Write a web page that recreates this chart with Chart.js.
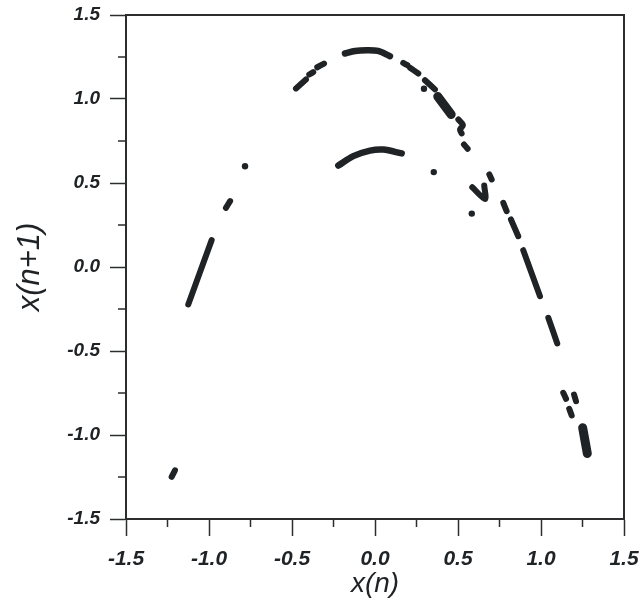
<!DOCTYPE html>
<html>
<head>
<meta charset="utf-8">
<script src="https://cdn.jsdelivr.net/npm/chart.js@4.4.1/dist/chart.umd.min.js"></script>
<style>
  html, body { margin: 0; padding: 0; background: #fff; }
  #wrap { width: 643px; height: 601px; position: relative; }
</style>
</head>
<body>
<div id="wrap"><canvas id="c" width="643" height="601"></canvas></div>
<script>
/* ---- data: x(n) vs x(n+1) return map ---- */
var X_TITLE = "x(n)";
var Y_TITLE = "x(n+1)";
var AXIS_MIN = -1.5, AXIS_MAX = 1.5, MAJOR_STEP = 0.5;
var MINOR_TICKS = [-1.25, -0.75, -0.25, 0.25, 0.75, 1.25];

// outer cap near the top
var topCap = [[-0.181, 1.271], [-0.120, 1.286], [-0.050, 1.290], [0.018, 1.286], [0.090, 1.255]];
// inner cap below it
var innerCap = [[-0.221, 0.604], [-0.131, 0.660], [-0.030, 0.693], [0.050, 0.699], [0.161, 0.676]];

// short dashes on the left half
var leftDashes = [
  [[-0.476, 1.063], [-0.416, 1.116]],
  [[-0.396, 1.146], [-0.372, 1.160]],
  [[-0.348, 1.189], [-0.307, 1.211]],
  [[-0.898, 0.352], [-0.873, 0.392]],
  [[-1.125, -0.223], [-0.984, 0.160]],
  [[-1.225, -1.249], [-1.205, -1.210]]
];

// dashes on the right half
var rightDashes = [
  [[0.170, 1.215], [0.195, 1.201]],
  [[0.211, 1.186], [0.261, 1.152]],
  [[0.301, 1.112], [0.361, 1.057]],
  [[0.502, 0.878], [0.530, 0.845], [0.512, 0.818], [0.522, 0.795]],
  [[0.536, 0.729], [0.558, 0.704]],
  [[0.689, 0.551], [0.703, 0.521]],
  [[0.586, 0.475], [0.663, 0.405], [0.658, 0.485]],
  [[0.773, 0.382], [0.793, 0.332]],
  [[0.819, 0.283], [0.863, 0.183]],
  [[0.893, 0.100], [0.994, -0.174]],
  [[1.044, -0.302], [1.098, -0.455]],
  [[1.134, -0.749], [1.151, -0.785]],
  [[1.199, -0.759], [1.211, -0.799]],
  [[1.170, -0.844], [1.185, -0.884]]
];

// the two heaviest strokes
var heavyDashes = [
  [[0.378, 1.015], [0.459, 0.908]],
  [[1.251, -0.957], [1.279, -1.110]]
];

// lone points
var isolated = [[0.295, 1.061], [0.354, 0.565], [-0.783, 0.600], [0.583, 0.318]];

/* ---- helpers ---- */
var INK = "#1f2326";
var FRAME = "#2b2d2f";
var FAMILY = "'Liberation Sans', Arial, sans-serif";

// join segments into one dataset, breaking the line with a y:null point
function segmentsToData(segs) {
  var out = [];
  segs.forEach(function (s, i) {
    if (i > 0) out.push({ x: s[0][0], y: null });
    s.forEach(function (p) { out.push({ x: p[0], y: p[1] }); });
  });
  return out;
}

function strokeSet(segs, width) {
  return {
    data: segmentsToData(segs),
    showLine: true,
    spanGaps: false,
    borderColor: INK,
    borderWidth: width,
    borderCapStyle: "round",
    borderJoinStyle: "round",
    tension: 0.3,
    pointRadius: 0
  };
}

/* ---- plugin: frame box + minor ticks ---- */
var frameAndMinor = {
  id: "frameAndMinor",
  afterDraw: function (chart) {
    var a = chart.chartArea, ctx = chart.ctx;
    var xs = chart.scales.x, ys = chart.scales.y;
    ctx.save();
    ctx.strokeStyle = FRAME;
    ctx.lineWidth = 2;
    ctx.strokeRect(a.left, a.top, a.right - a.left, a.bottom - a.top);
    ctx.lineWidth = 1.5;
    ctx.beginPath();
    MINOR_TICKS.forEach(function (v) {
      var px = xs.getPixelForValue(v);
      ctx.moveTo(px, a.bottom); ctx.lineTo(px, a.bottom + 8);
      var py = ys.getPixelForValue(v);
      ctx.moveTo(a.left, py); ctx.lineTo(a.left - 8, py);
    });
    ctx.stroke();
    ctx.restore();
  }
};

var tickFmt = function (v) { return Number(v).toFixed(1); };

new Chart(document.getElementById("c").getContext("2d"), {
  type: "scatter",
  data: {
    datasets: [
      strokeSet([topCap, innerCap], 6.5),
      strokeSet(leftDashes, 6),
      strokeSet(rightDashes, 6),
      strokeSet(heavyDashes, 9),
      {
        data: isolated.map(function (p) { return { x: p[0], y: p[1] }; }),
        pointRadius: 3.2,
        pointBackgroundColor: INK,
        pointBorderWidth: 0,
        showLine: false
      }
    ]
  },
  plugins: [frameAndMinor],
  options: {
    responsive: false,
    animation: false,
    events: [],
    layout: { padding: { top: 15, right: 19, left: 0, bottom: 0 } },
    plugins: { legend: { display: false }, tooltip: { enabled: false } },
    scales: {
      x: {
        type: "linear",
        min: AXIS_MIN, max: AXIS_MAX,
        afterFit: function (s) { s.height = 82; s.paddingLeft = 0; s.paddingRight = 0; },
        ticks: {
          stepSize: MAJOR_STEP, callback: tickFmt, color: INK, padding: 11,
          maxRotation: 0,
          font: { family: FAMILY, size: 21, weight: "bold", style: "italic" }
        },
        grid: { drawOnChartArea: false, drawTicks: true, tickLength: 17, tickColor: FRAME, tickWidth: 1.5 },
        border: { display: true, color: FRAME, width: 2 },
        title: {
          display: true, text: X_TITLE, color: INK, padding: { top: 0, bottom: 0 },
          font: { family: FAMILY, size: 28, style: "italic", lineHeight: 1.2 }
        }
      },
      y: {
        type: "linear",
        min: AXIS_MIN, max: AXIS_MAX,
        afterFit: function (s) { s.width = 126; s.paddingTop = 0; s.paddingBottom = 0; },
        ticks: {
          stepSize: MAJOR_STEP, callback: tickFmt, color: INK, padding: 10,
          font: { family: FAMILY, size: 19, weight: "bold", style: "italic" }
        },
        grid: { drawOnChartArea: false, drawTicks: true, tickLength: 16, tickColor: FRAME, tickWidth: 1.5 },
        border: { display: true, color: FRAME, width: 2 },
        title: {
          display: true, text: Y_TITLE, color: INK, padding: { top: 12, bottom: 0 },
          font: { family: FAMILY, size: 31, style: "italic", lineHeight: 1.2 }
        }
      }
    }
  }
});
</script>
</body>
</html>
